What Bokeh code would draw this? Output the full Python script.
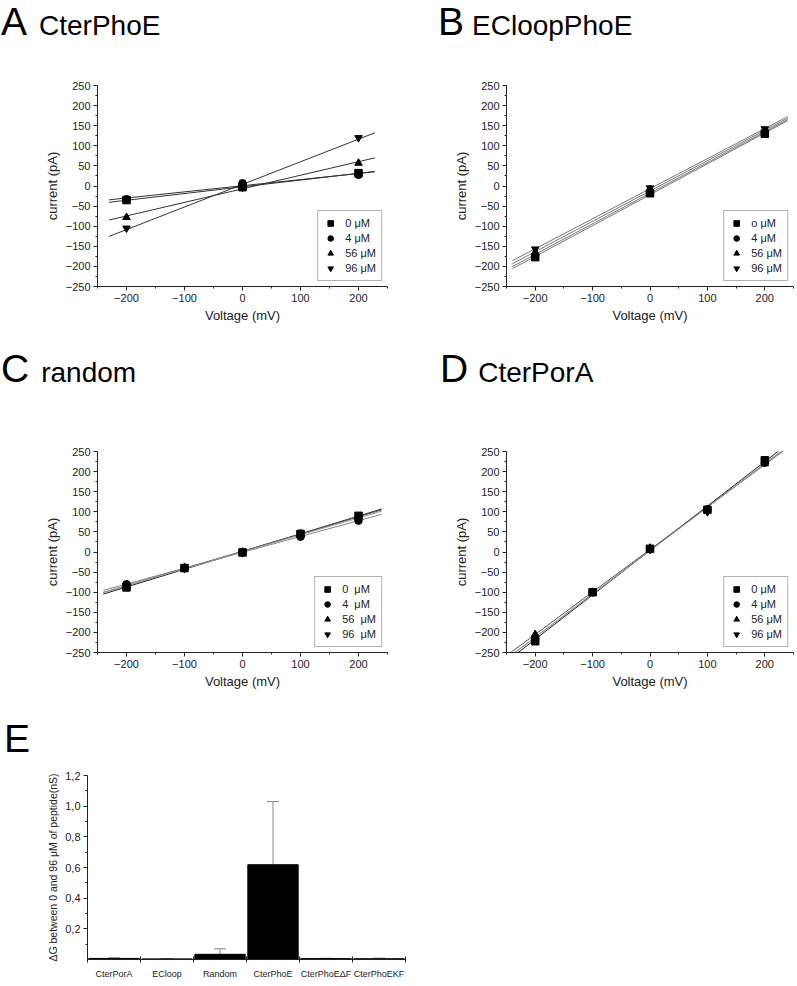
import numpy as np
from bokeh.plotting import figure
from bokeh.models import (Range1d, SingleIntervalTicker, FixedTicker, Legend, Div,
                          LegendItem, Whisker, TeeHead, ColumnDataSource, CustomJSTickFormatter)
from bokeh.layouts import column, row
from bokeh.embed import file_html
from bokeh.resources import INLINE

FONT = "Liberation Sans"

# ---------------- data ----------------
conc_labels_A = ["0 μM", "4 μM", "56 μM", "96 μM"]
conc_labels_B = ["o μM", "4 μM", "56 μM", "96 μM"]
conc_labels_C = ["0  μM", "4  μM", "56  μM", "96  μM"]
conc_labels_D = ["0 μM", "4 μM", "56 μM", "96 μM"]

volt_AB = [-200, 0, 200]
volt_CD = [-200, -100, 0, 100, 200]

A_0 = [-35, -3, 32]
A_4 = [-33, 7, 28]
A_56 = [-78, 0, 57]
A_96 = [-105, -3, 120]

B_0 = [-177, -18, 130]
B_4 = [-172, -14, 133]
B_56 = [-165, -9, 137]
B_96 = [-157, -5, 142]

C_0 = [-88, -40, -1, 45, 90]
C_4 = [-80, -40, 0, 38, 78]
C_56 = [-85, -38, 0, 46, 87]
C_96 = [-83, -41, -2, 44, 85]

D_0 = [-222, -100, 8, 105, 228]
D_4 = [-215, -100, 8, 106, 222]
D_56 = [-205, -100, 10, 106, 220]
D_96 = [-215, -100, 6, 100, 224]

E_categories = ["CterPorA", "ECloop", "Random", "CterPhoE", "CterPhoEΔF", "CterPhoEKF"]
E_values = [0.007, 0.004, 0.034, 0.618, 0.006, 0.005]
E_errors = [0.004, 0.002, 0.036, 0.412, 0.002, 0.004]

MARKERS = ["square", "circle", "triangle", "inverted_triangle"]


def style_axis(ax):
    ax.axis_line_color = "#222"
    ax.major_tick_line_color = "#222"
    ax.minor_tick_line_color = "#222"
    ax.major_tick_in = 0
    ax.major_tick_out = 4
    ax.minor_tick_in = 0
    ax.minor_tick_out = 2
    ax.major_label_text_font = FONT
    ax.major_label_text_font_size = "11px"
    ax.major_label_text_color = "#222"
    ax.major_label_standoff = 3
    ax.axis_label_text_font = FONT
    ax.axis_label_text_font_size = "13px"
    ax.axis_label_text_font_style = "normal"
    ax.axis_label_text_color = "#222"
    ax.axis_label_standoff = 3


def title_div(letter, name, W, H, pad_top, pad_left, gap=8):
    name_html = ""
    if name:
        name_html = (f'<span style="font-size:28px;margin-left:{gap}px">{name}</span>')
    html = (f'<div style="font-family:\'{FONT}\',Arial,sans-serif;line-height:normal;'
            f'white-space:nowrap;padding-top:{pad_top}px;padding-left:{pad_left}px;color:black">'
            f'<span style="font-size:39px">{letter}</span>{name_html}</div>')
    return Div(text=html, width=W, height=H, margin=0)


def make_iv(W, H, bl, br, bt, bb, volts, series, labels, line_x, line_colors):
    p = figure(width=W, height=H, x_range=Range1d(-250, 250), y_range=Range1d(-250, 250),
               output_backend="svg", toolbar_location=None,
               min_border_left=bl, min_border_right=br, min_border_top=bt, min_border_bottom=bb)
    p.outline_line_color = None
    p.grid.visible = False
    p.xaxis.ticker = SingleIntervalTicker(interval=100, num_minor_ticks=2)
    p.yaxis.ticker = SingleIntervalTicker(interval=50, num_minor_ticks=2)
    p.xaxis.axis_label = "Voltage (mV)"
    p.yaxis.axis_label = "current (pA)"
    for ax in p.axis:
        style_axis(ax)
    for s, c in zip(series, line_colors):
        k, b = np.polyfit(volts, s, 1)
        xs = np.array(line_x, dtype=float)
        p.line(xs, k * xs + b, line_color=c, line_width=1)
    items = []
    for s, m, lab in zip(series, MARKERS, labels):
        r = p.scatter(volts, s, marker=m, size=7.5, fill_color="black", line_color="black")
        items.append(LegendItem(label=lab, renderers=[r]))
    leg = Legend(items=items, location="bottom_right", margin=5, padding=5, spacing=1,
                 label_text_font=FONT, label_text_font_size="11px", label_text_color="#222",
                 label_height=14, glyph_height=14, glyph_width=14, label_standoff=8,
                 border_line_color="#666", border_line_width=1, background_fill_color="white")
    p.add_layout(leg)
    return p


# Row 1: titles y 0..45, plots y 45..330
tA = title_div("A", "CterPhoE", 400, 45, 0, 1, gap=12)
tB = title_div("B", "ECloopPhoE", 397, 45, 0, 38, gap=8)
pA = make_iv(400, 285, 97, 13, 40, 44, volt_AB, [A_0, A_4, A_56, A_96], conc_labels_A,
             [-230, 228], ["#333", "#333", "#333", "#333"])
pB = make_iv(397, 285, 106, 4, 40, 44, volt_AB, [B_0, B_4, B_56, B_96], conc_labels_B,
             [-240, 240], ["#777", "#777", "#777", "#777"])

# Row 2: titles y 330..390, plots y 390..692
tC = title_div("C", "random", 400, 60, 17, 1, gap=12)
tD = title_div("D", "CterPorA", 397, 60, 17, 40, gap=10)
pC = make_iv(400, 302, 97, 13, 61, 40, volt_CD, [C_0, C_4, C_56, C_96], conc_labels_C,
             [-240, 240], ["#222", "#888", "#555", "#999"])
pD = make_iv(397, 302, 106, 4, 61, 40, volt_CD, [D_0, D_4, D_56, D_96], conc_labels_D,
             [-250, 250], ["#222", "#888", "#555", "#999"])

# Row 3: title y 692..757, plot y 757..984
tE = title_div("E", None, 420, 65, 25, 4)
pE = figure(width=420, height=227, x_range=Range1d(0, 6), y_range=Range1d(0, 1.2),
            output_backend="svg", toolbar_location=None,
            min_border_left=87, min_border_right=15, min_border_top=18, min_border_bottom=25)
pE.outline_line_color = None
pE.grid.visible = False
xpos = [i + 0.5 for i in range(len(E_categories))]
src = ColumnDataSource(dict(x=xpos, top=E_values,
                            upper=[v + e for v, e in zip(E_values, E_errors)]))
pE.vbar(x="x", top="top", width=0.95, source=src, fill_color="black", line_color="black")
pE.add_layout(Whisker(base="x", lower="top", upper="upper", source=src, lower_head=None,
                      upper_head=TeeHead(size=12, line_color="#888", line_width=1),
                      line_color="#888", line_width=1))
for ax in pE.axis:
    style_axis(ax)
pE.xaxis.ticker = FixedTicker(ticks=xpos, minor_ticks=list(range(len(E_categories) + 1)))
pE.xaxis.formatter = CustomJSTickFormatter(args=dict(labels=E_categories),
                                           code="return labels[Math.floor(tick)]")
pE.xaxis.major_tick_out = 0
pE.xaxis.minor_tick_in = 3
pE.xaxis.minor_tick_out = 3
pE.xaxis.major_label_text_font_size = "9px"
pE.xaxis.major_label_standoff = 6
pE.yaxis.ticker = FixedTicker(ticks=[0.2, 0.4, 0.6, 0.8, 1.0, 1.2],
                              minor_ticks=[0.1, 0.3, 0.5, 0.7, 0.9, 1.1])
pE.yaxis.formatter = CustomJSTickFormatter(code="return tick.toFixed(1).replace('.', ',')")
pE.yaxis.axis_label = "ΔG between 0 and 96 μM of peptide(nS)"
pE.yaxis.axis_label_text_font_size = "10.5px"

layout = column(row(tA, tB), row(pA, pB), row(tC, tD), row(pC, pD), tE, pE)
open("out.html", "w").write(file_html(layout, INLINE))
